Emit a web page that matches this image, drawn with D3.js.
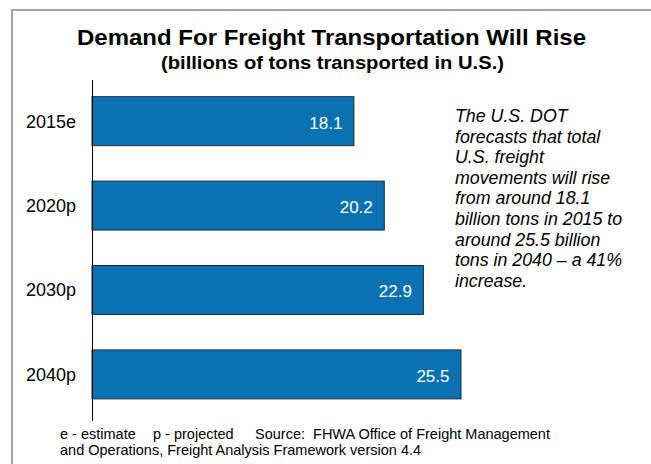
<!DOCTYPE html>
<html>
<head>
<meta charset="utf-8">
<script src="https://cdn.jsdelivr.net/npm/d3@7"></script>
<style>
  body { margin: 0; background: #fff; }
  svg { display: block; font-family: "Liberation Sans", Arial, sans-serif; }
</style>
</head>
<body>
<script>
const width = 651,
      height = 464;

// data
const years = ["2015e", "2020p", "2030p", "2040p"];
const tons = [18.1, 20.2, 22.9, 25.5];
const noteLines = [
  "The U.S. DOT",
  "forecasts that total",
  "U.S. freight",
  "movements will rise",
  "from around 18.1",
  "billion tons in 2015 to",
  "around 25.5 billion",
  "tons in 2040 \u2013 a 41%",
  "increase."
];
const footParts = ["e - estimate", "p - projected", "Source:\u00a0 FHWA Office of Freight Management"];
const footLine2 = "and Operations, Freight Analysis Framework version 4.4";

const svg = d3.select("body")
              .append("svg")
              .attr("width", width)
              .attr("height", height);

// frame
svg.append("path")
   .attr("d", "M12," + height + "V10H" + width)
   .attr("fill", "none")
   .attr("stroke", "#a6a6a6")
   .attr("stroke-width", 2);

// titles (source text is rendered a bit wide, so stretch to fit)
svg.append("text")
   .attr("x", 77).attr("y", 45)
   .attr("textLength", 509)
   .attr("lengthAdjust", "spacingAndGlyphs")
   .style("font-size", "22.5px").style("font-weight", "bold")
   .text("Demand For Freight Transportation Will Rise");
svg.append("text")
   .attr("x", 161).attr("y", 69)
   .attr("textLength", 343)
   .attr("lengthAdjust", "spacingAndGlyphs")
   .style("font-size", "18.5px").style("font-weight", "bold")
   .text("(billions of tons transported in U.S.)");

const x = d3.scaleLinear()
            .domain([0, 30])
            .range([92, 92 + 30 * 14.47]);
const y = d3.scaleBand()
            .domain(years)
            .range([80, 421])
            .paddingInner(0.42)
            .paddingOuter(0.23)
            .align(0.43);

const bars = svg.append("g")
                .selectAll("g")
                .data(years.map((d, i) => ({year: d, value: tons[i]})))
                .enter()
                .append("g");

bars.append("rect")
    .attr("x", x(0))
    .attr("y", d => y(d.year))
    .attr("width", d => x(d.value) - x(0))
    .attr("height", y.bandwidth())
    .attr("fill", "#0a72b2")
    .attr("stroke", "#1b2c3c")
    .attr("stroke-width", 1);

bars.append("text")
    .attr("x", d => x(d.value) - 11.5)
    .attr("y", d => y(d.year) + y.bandwidth() / 2 + 7.5)
    .attr("text-anchor", "end")
    .attr("fill", "#fff")
    .style("font-size", "17px")
    .text(d => d.value.toFixed(1));

// category axis
const axis = svg.append("g")
                .attr("transform", "translate(" + x(0) + ",0)")
                .call(d3.axisLeft(y).tickSize(0).tickPadding(16));
axis.select(".domain").remove();
axis.selectAll("text")
    .style("font-size", "18px")
    .style("font-family", "'Liberation Sans', Arial, sans-serif")
    .attr("fill", "#000")
    .attr("dy", "0.36em");
svg.append("line")
   .attr("x1", x(0) + 0.5).attr("x2", x(0) + 0.5)
   .attr("y1", y.range()[0]).attr("y2", y.range()[1])
   .attr("stroke", "#000");

// annotation
svg.append("text")
   .attr("x", 455).attr("y", 122)
   .style("font-size", "17.8px").style("font-style", "italic")
   .selectAll("tspan")
   .data(noteLines)
   .enter()
   .append("tspan")
   .attr("x", 455)
   .attr("dy", (d, i) => i ? 20.6 : 0)
   .text(d => d);

// footnote
const foot = svg.append("g")
                .style("font-size", "14.5px");
foot.append("text")
    .attr("y", 439)
    .selectAll("tspan")
    .data(footParts)
    .enter()
    .append("tspan")
    .attr("x", (d, i) => [60, 153, 255][i])
    .text(d => d);
foot.append("text")
    .attr("x", 60).attr("y", 455)
    .text(footLine2);
</script>
</body>
</html>
